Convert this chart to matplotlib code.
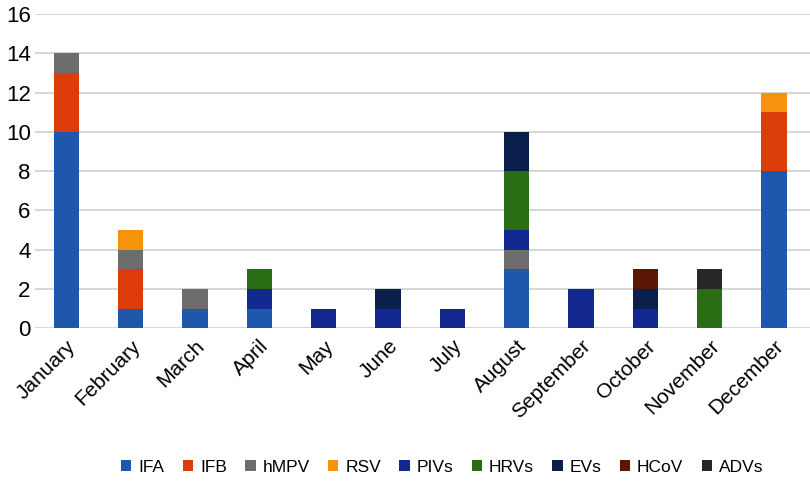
import matplotlib.pyplot as plt
import numpy as np

plt.rcParams['font.family'] = ['Liberation Sans', 'DejaVu Sans']

months = ['January', 'February', 'March', 'April', 'May', 'June', 'July',
          'August', 'September', 'October', 'November', 'December']
ifa = [10, 1, 1, 1, 0, 0, 0, 3, 0, 0, 0, 8]
ifb = [3, 2, 0, 0, 0, 0, 0, 0, 0, 0, 0, 3]
hmpv = [1, 1, 1, 0, 0, 0, 0, 1, 0, 0, 0, 0]
rsv = [0, 1, 0, 0, 0, 0, 0, 0, 0, 0, 0, 1]
pivs = [0, 0, 0, 1, 1, 1, 1, 1, 2, 1, 0, 0]
hrvs = [0, 0, 0, 1, 0, 0, 0, 3, 0, 0, 2, 0]
evs = [0, 0, 0, 0, 0, 1, 0, 2, 0, 1, 0, 0]
hcov = [0, 0, 0, 0, 0, 0, 0, 0, 0, 1, 0, 0]
advs = [0, 0, 0, 0, 0, 0, 0, 0, 0, 0, 1, 0]

series = [('IFA', ifa, '#1f57ad'), ('IFB', ifb, '#dc3b0a'),
          ('hMPV', hmpv, '#6d6d6d'), ('RSV', rsv, '#f7930c'),
          ('PIVs', pivs, '#13298f'), ('HRVs', hrvs, '#2b6d14'),
          ('EVs', evs, '#0b1f4d'), ('HCoV', hcov, '#5c1604'),
          ('ADVs', advs, '#272727')]

fig = plt.figure(figsize=(8.1, 4.84), dpi=100)
ax = fig.add_axes([0.043, 0.322, 0.957, 0.649])

x = np.arange(len(months))
bottom = np.zeros(len(months))
for name, vals, col in series:
    ax.bar(x, vals, 0.39, bottom=bottom, color=col, label=name, zorder=3)
    bottom += np.array(vals)

ax.set_ylim(0, 16)
ax.set_xlim(-0.49, 11.56)
ax.set_yticks(range(0, 17, 2))
ax.set_xticks(x)
ax.set_xticklabels(months, rotation=45, ha='right', rotation_mode='anchor',
                   fontsize=15)
ax.tick_params(axis='y', labelsize=16, length=0, pad=3)
ax.tick_params(axis='x', length=0, pad=6)
ax.yaxis.grid(True, color='#d0d0d0', linewidth=1.2, zorder=0)
for s in ax.spines.values():
    s.set_visible(False)

fig.legend(loc='center', bbox_to_anchor=(0.546, 0.035), ncol=9, frameon=False,
           fontsize=12.5, handlelength=0.6, handleheight=0.6, handletextpad=0.4,
           columnspacing=1.05)

fig.savefig('out.png', dpi=100)
